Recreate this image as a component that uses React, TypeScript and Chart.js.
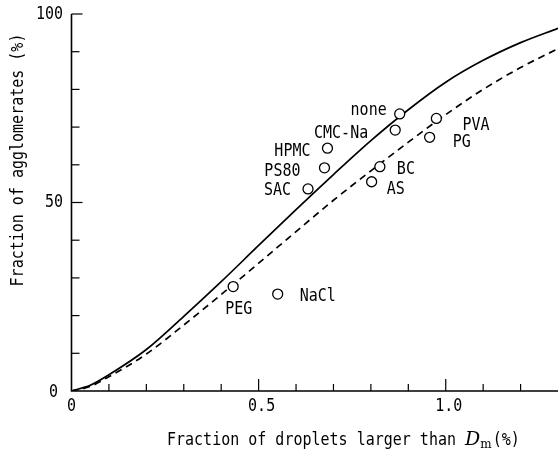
import React, { useEffect, useRef } from "react";
import { Chart, registerables } from "chart.js";
Chart.register(...registerables);

// Solid curve
const solidX = [0, 0.05, 0.1, 0.2, 0.3, 0.4, 0.5, 0.6, 0.7, 0.8, 0.9, 1.0, 1.1, 1.2, 1.3];
const solidY = [0, 1.5, 4.3, 11.0, 19.8, 29.0, 38.6, 48.1, 57.4, 66.4, 74.6, 81.9, 87.7, 92.4, 96.2];
// Dashed curve
const dashedX = [0, 0.05, 0.1, 0.2, 0.3, 0.4, 0.5, 0.6, 0.7, 0.8, 0.9, 1.0, 1.1, 1.2, 1.3];
const dashedY = [0, 1.2, 3.8, 9.8, 17.5, 25.6, 33.9, 42.3, 50.6, 58.4, 66.0, 73.3, 80, 85.8, 90.8];
// Samples
const sampleNames = ["none", "CMC-Na", "HPMC", "PS80", "SAC", "BC", "AS", "PVA", "PG", "PEG", "NaCl"];
const sampleX = [0.877, 0.865, 0.684, 0.676, 0.632, 0.824, 0.802, 0.975, 0.957, 0.432, 0.551];
const sampleY = [73.5, 69.2, 64.4, 59.2, 53.6, 59.5, 55.5, 72.3, 67.3, 27.7, 25.7];
// Ticks
const xTickValues = [0, 0.5, 1.0];
const xTickLabels = ["0", "0.5", "1.0"];
const yTickValues = [0, 50, 100];
const yTickLabels = ["0", "50", "100"];
const xTitle = "Fraction of droplets larger than ";
const yTitle = "Fraction of agglomerates (%)";

// label placement offsets (px) relative to each sample marker: [dx, dy, align]
const labelOffsets: [number, number, CanvasTextAlign][] = [
  [-13, -4, "right"],
  [-27, 3, "right"],
  [-17, 3.5, "right"],
  [-24, 3.5, "right"],
  [-17, 1, "right"],
  [17, 3, "left"],
  [15, 7, "left"],
  [26, 7, "left"],
  [23, 4.5, "left"],
  [-8, 23, "left"],
  [22, 2, "left"],
];

const MONO = "'DejaVu Sans Mono', monospace";
const STRETCH = 1.22;

function tallText(ctx: CanvasRenderingContext2D, s: string, x: number, y: number) {
  ctx.save();
  ctx.translate(x, y);
  ctx.scale(1, STRETCH);
  ctx.fillText(s, 0, 0);
  ctx.restore();
}

const annotPlugin = {
  id: "annot",
  afterDraw(chart: any) {
    const ctx: CanvasRenderingContext2D = chart.ctx;
    const xs = chart.scales.x;
    const ys = chart.scales.y;
    const left = chart.chartArea.left;
    const bottom = chart.chartArea.bottom;
    const right = chart.chartArea.right;
    const top = chart.chartArea.top;
    ctx.save();
    ctx.strokeStyle = "#000";
    ctx.fillStyle = "#000";
    ctx.lineWidth = 1.6;
    // axes
    ctx.beginPath();
    ctx.moveTo(left, top);
    ctx.lineTo(left, bottom);
    ctx.lineTo(right, bottom);
    ctx.stroke();
    // y ticks
    ctx.lineWidth = 1.2;
    for (let v = 10; v <= 100; v += 10) {
      const y = ys.getPixelForValue(v);
      const len = v % 50 === 0 ? 11 : 8;
      ctx.beginPath();
      ctx.moveTo(left, y);
      ctx.lineTo(left + len, y);
      ctx.stroke();
    }
    // x ticks
    for (let i = 1; i <= 12; i++) {
      const v = i / 10;
      const x = xs.getPixelForValue(v);
      const len = i % 5 === 0 ? 12 : 7;
      ctx.beginPath();
      ctx.moveTo(x, bottom);
      ctx.lineTo(x, bottom - len);
      ctx.stroke();
    }
    // tick labels
    ctx.font = `15px ${MONO}`;
    ctx.textBaseline = "middle";
    ctx.textAlign = "right";
    yTickValues.forEach((v, i) => {
      const y = ys.getPixelForValue(v);
      tallText(ctx, yTickLabels[i], v === 0 ? 58 : 63, y + (v === 0 ? 1 : 0));
    });
    ctx.textAlign = "center";
    xTickValues.forEach((v, i) => {
      const x = xs.getPixelForValue(v);
      tallText(ctx, xTickLabels[i], x + (v === 0 ? 0 : 3), bottom + 15);
    });
    // y title
    ctx.save();
    ctx.translate(18, 160);
    ctx.rotate(-Math.PI / 2);
    ctx.textAlign = "center";
    ctx.font = `15px ${MONO}`;
    ctx.scale(1, STRETCH);
    ctx.fillText(yTitle, 0, 0);
    ctx.restore();
    // x title
    ctx.textAlign = "left";
    ctx.font = `15px ${MONO}`;
    let tx = 167;
    const ty = 440;
    tallText(ctx, xTitle, tx, ty);
    tx += ctx.measureText(xTitle).width;
    ctx.font = `italic 19px 'DejaVu Serif', serif`;
    ctx.fillText("D", tx, ty);
    tx += ctx.measureText("D").width;
    ctx.font = `12px 'DejaVu Serif', serif`;
    ctx.fillText("m", tx, ty + 5);
    tx += ctx.measureText("m").width + 1;
    ctx.font = `15px ${MONO}`;
    tallText(ctx, "(%)", tx, ty);
    // sample labels
    ctx.font = `15px ${MONO}`;
    sampleNames.forEach((n, i) => {
      const x = xs.getPixelForValue(sampleX[i]);
      const y = ys.getPixelForValue(sampleY[i]);
      const [dx, dy, al] = labelOffsets[i];
      ctx.textAlign = al;
      tallText(ctx, n, x + dx, y + dy);
    });
    ctx.restore();
  },
};

export default function App() {
  const ref = useRef<HTMLCanvasElement>(null);
  useEffect(() => {
    if (!ref.current) return;
    const chart = new Chart(ref.current, {
      type: "scatter",
      data: {
        datasets: [
          {
            label: "samples",
            data: sampleX.map((x, i) => ({ x, y: sampleY[i] })),
            pointRadius: 5,
            pointBackgroundColor: "#fff",
            pointBorderColor: "#000",
            pointBorderWidth: 1.3,
            showLine: false,
            order: 0,
          },
          {
            label: "solid",
            data: solidX.map((x, i) => ({ x, y: solidY[i] })),
            showLine: true,
            borderColor: "#000",
            borderWidth: 1.7,
            pointRadius: 0,
            cubicInterpolationMode: "monotone",
            order: 1,
          } as any,
          {
            label: "dashed",
            data: dashedX.map((x, i) => ({ x, y: dashedY[i] })),
            showLine: true,
            borderColor: "#000",
            borderWidth: 1.7,
            borderDash: [7, 5],
            pointRadius: 0,
            cubicInterpolationMode: "monotone",
            order: 2,
          } as any,
        ],
      },
      options: {
        animation: false,
        responsive: false,
        layout: { autoPadding: false, padding: { left: 71.5, top: 14, right: 0, bottom: 59 } },
        plugins: { legend: { display: false }, tooltip: { enabled: false } },
        scales: {
          x: {
            type: "linear",
            min: 0,
            max: 1.3,
            grid: { display: false },
            border: { display: false },
            ticks: { display: false },
            afterFit: (s: any) => { s.height = 0; },
          },
          y: {
            type: "linear",
            min: 0,
            max: 100,
            grid: { display: false },
            border: { display: false },
            ticks: { display: false },
            afterFit: (s: any) => { s.width = 0; },
          },
        },
      } as any,
      plugins: [annotPlugin],
    });
    return () => chart.destroy();
  }, []);
  return (
    <div style={{ position: "fixed", left: 0, top: 0, width: 558, height: 450, background: "#fff" }}>
      <canvas ref={ref} width={558} height={450} />
    </div>
  );
}
